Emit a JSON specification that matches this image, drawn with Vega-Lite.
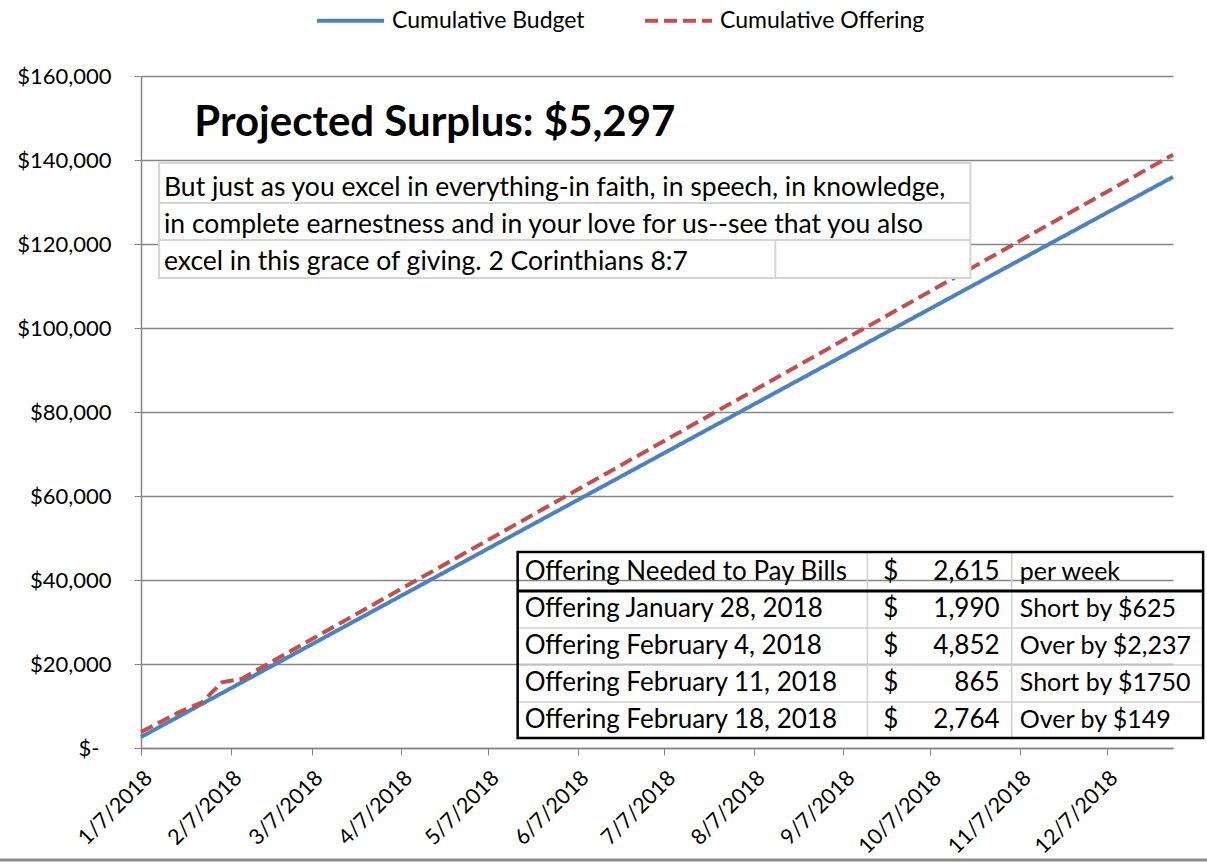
{
  "$schema": "https://vega.github.io/schema/vega-lite/v6.json",
  "autosize": "none",
  "width": 1032,
  "height": 672,
  "padding": {"left": 141, "top": 76, "right": 34, "bottom": 119},
  "background": "white",
  "config": {
    "view": {"stroke": null},
    "font": "Lato",
    "axis": {"labelFont": "Lato", "labelColor": "#000000", "domainColor": "#868686", "tickColor": "#868686", "gridColor": "#868686", "titleFont": "Lato"}
  },
  "layer": [
    {
      "data": {"values": [
        {"date": "2018-01-07", "series": "Cumulative Budget", "value": 2615},
        {"date": "2018-01-14", "series": "Cumulative Budget", "value": 5230},
        {"date": "2018-01-21", "series": "Cumulative Budget", "value": 7845},
        {"date": "2018-01-28", "series": "Cumulative Budget", "value": 10460},
        {"date": "2018-02-04", "series": "Cumulative Budget", "value": 13075},
        {"date": "2018-02-11", "series": "Cumulative Budget", "value": 15690},
        {"date": "2018-02-18", "series": "Cumulative Budget", "value": 18305},
        {"date": "2018-02-25", "series": "Cumulative Budget", "value": 20920},
        {"date": "2018-03-04", "series": "Cumulative Budget", "value": 23535},
        {"date": "2018-03-11", "series": "Cumulative Budget", "value": 26150},
        {"date": "2018-03-18", "series": "Cumulative Budget", "value": 28765},
        {"date": "2018-03-25", "series": "Cumulative Budget", "value": 31380},
        {"date": "2018-04-01", "series": "Cumulative Budget", "value": 33995},
        {"date": "2018-04-08", "series": "Cumulative Budget", "value": 36610},
        {"date": "2018-04-15", "series": "Cumulative Budget", "value": 39225},
        {"date": "2018-04-22", "series": "Cumulative Budget", "value": 41840},
        {"date": "2018-04-29", "series": "Cumulative Budget", "value": 44455},
        {"date": "2018-05-06", "series": "Cumulative Budget", "value": 47070},
        {"date": "2018-05-13", "series": "Cumulative Budget", "value": 49685},
        {"date": "2018-05-20", "series": "Cumulative Budget", "value": 52300},
        {"date": "2018-05-27", "series": "Cumulative Budget", "value": 54915},
        {"date": "2018-06-03", "series": "Cumulative Budget", "value": 57530},
        {"date": "2018-06-10", "series": "Cumulative Budget", "value": 60145},
        {"date": "2018-06-17", "series": "Cumulative Budget", "value": 62760},
        {"date": "2018-06-24", "series": "Cumulative Budget", "value": 65375},
        {"date": "2018-07-01", "series": "Cumulative Budget", "value": 67990},
        {"date": "2018-07-08", "series": "Cumulative Budget", "value": 70605},
        {"date": "2018-07-15", "series": "Cumulative Budget", "value": 73220},
        {"date": "2018-07-22", "series": "Cumulative Budget", "value": 75835},
        {"date": "2018-07-29", "series": "Cumulative Budget", "value": 78450},
        {"date": "2018-08-05", "series": "Cumulative Budget", "value": 81065},
        {"date": "2018-08-12", "series": "Cumulative Budget", "value": 83680},
        {"date": "2018-08-19", "series": "Cumulative Budget", "value": 86295},
        {"date": "2018-08-26", "series": "Cumulative Budget", "value": 88910},
        {"date": "2018-09-02", "series": "Cumulative Budget", "value": 91525},
        {"date": "2018-09-09", "series": "Cumulative Budget", "value": 94140},
        {"date": "2018-09-16", "series": "Cumulative Budget", "value": 96755},
        {"date": "2018-09-23", "series": "Cumulative Budget", "value": 99370},
        {"date": "2018-09-30", "series": "Cumulative Budget", "value": 101985},
        {"date": "2018-10-07", "series": "Cumulative Budget", "value": 104600},
        {"date": "2018-10-14", "series": "Cumulative Budget", "value": 107215},
        {"date": "2018-10-21", "series": "Cumulative Budget", "value": 109830},
        {"date": "2018-10-28", "series": "Cumulative Budget", "value": 112445},
        {"date": "2018-11-04", "series": "Cumulative Budget", "value": 115060},
        {"date": "2018-11-11", "series": "Cumulative Budget", "value": 117675},
        {"date": "2018-11-18", "series": "Cumulative Budget", "value": 120290},
        {"date": "2018-11-25", "series": "Cumulative Budget", "value": 122905},
        {"date": "2018-12-02", "series": "Cumulative Budget", "value": 125520},
        {"date": "2018-12-09", "series": "Cumulative Budget", "value": 128135},
        {"date": "2018-12-16", "series": "Cumulative Budget", "value": 130750},
        {"date": "2018-12-23", "series": "Cumulative Budget", "value": 133365},
        {"date": "2018-12-30", "series": "Cumulative Budget", "value": 135980},
        {"date": "2018-01-07", "series": "Cumulative Offering", "value": 3800},
        {"date": "2018-01-14", "series": "Cumulative Offering", "value": 6300},
        {"date": "2018-01-21", "series": "Cumulative Offering", "value": 8800},
        {"date": "2018-01-28", "series": "Cumulative Offering", "value": 10790},
        {"date": "2018-02-04", "series": "Cumulative Offering", "value": 15642},
        {"date": "2018-02-11", "series": "Cumulative Offering", "value": 16507},
        {"date": "2018-02-18", "series": "Cumulative Offering", "value": 19271},
        {"date": "2018-02-25", "series": "Cumulative Offering", "value": 22011},
        {"date": "2018-03-04", "series": "Cumulative Offering", "value": 24721},
        {"date": "2018-03-11", "series": "Cumulative Offering", "value": 27432},
        {"date": "2018-03-18", "series": "Cumulative Offering", "value": 30142},
        {"date": "2018-03-25", "series": "Cumulative Offering", "value": 32853},
        {"date": "2018-04-01", "series": "Cumulative Offering", "value": 35564},
        {"date": "2018-04-08", "series": "Cumulative Offering", "value": 38274},
        {"date": "2018-04-15", "series": "Cumulative Offering", "value": 40985},
        {"date": "2018-04-22", "series": "Cumulative Offering", "value": 43695},
        {"date": "2018-04-29", "series": "Cumulative Offering", "value": 46406},
        {"date": "2018-05-06", "series": "Cumulative Offering", "value": 49117},
        {"date": "2018-05-13", "series": "Cumulative Offering", "value": 51827},
        {"date": "2018-05-20", "series": "Cumulative Offering", "value": 54538},
        {"date": "2018-05-27", "series": "Cumulative Offering", "value": 57248},
        {"date": "2018-06-03", "series": "Cumulative Offering", "value": 59959},
        {"date": "2018-06-10", "series": "Cumulative Offering", "value": 62670},
        {"date": "2018-06-17", "series": "Cumulative Offering", "value": 65380},
        {"date": "2018-06-24", "series": "Cumulative Offering", "value": 68091},
        {"date": "2018-07-01", "series": "Cumulative Offering", "value": 70801},
        {"date": "2018-07-08", "series": "Cumulative Offering", "value": 73512},
        {"date": "2018-07-15", "series": "Cumulative Offering", "value": 76223},
        {"date": "2018-07-22", "series": "Cumulative Offering", "value": 78933},
        {"date": "2018-07-29", "series": "Cumulative Offering", "value": 81644},
        {"date": "2018-08-05", "series": "Cumulative Offering", "value": 84354},
        {"date": "2018-08-12", "series": "Cumulative Offering", "value": 87065},
        {"date": "2018-08-19", "series": "Cumulative Offering", "value": 89776},
        {"date": "2018-08-26", "series": "Cumulative Offering", "value": 92486},
        {"date": "2018-09-02", "series": "Cumulative Offering", "value": 95197},
        {"date": "2018-09-09", "series": "Cumulative Offering", "value": 97907},
        {"date": "2018-09-16", "series": "Cumulative Offering", "value": 100618},
        {"date": "2018-09-23", "series": "Cumulative Offering", "value": 103329},
        {"date": "2018-09-30", "series": "Cumulative Offering", "value": 106039},
        {"date": "2018-10-07", "series": "Cumulative Offering", "value": 108750},
        {"date": "2018-10-14", "series": "Cumulative Offering", "value": 111460},
        {"date": "2018-10-21", "series": "Cumulative Offering", "value": 114171},
        {"date": "2018-10-28", "series": "Cumulative Offering", "value": 116882},
        {"date": "2018-11-04", "series": "Cumulative Offering", "value": 119592},
        {"date": "2018-11-11", "series": "Cumulative Offering", "value": 122303},
        {"date": "2018-11-18", "series": "Cumulative Offering", "value": 125013},
        {"date": "2018-11-25", "series": "Cumulative Offering", "value": 127724},
        {"date": "2018-12-02", "series": "Cumulative Offering", "value": 130435},
        {"date": "2018-12-09", "series": "Cumulative Offering", "value": 133145},
        {"date": "2018-12-16", "series": "Cumulative Offering", "value": 135856},
        {"date": "2018-12-23", "series": "Cumulative Offering", "value": 138566},
        {"date": "2018-12-30", "series": "Cumulative Offering", "value": 141277}
      ]},
      "mark": {"type": "line", "strokeWidth": 4, "strokeCap": "butt"},
      "encoding": {
        "x": {
          "field": "date", "type": "temporal",
          "scale": {"domain": [{"year": 2018, "month": 1, "date": 7, "utc": true}, {"year": 2018, "month": 12, "date": 30, "utc": true}], "nice": false},
          "axis": {
            "title": null,
            "values": [
              {"year": 2018, "month": 1, "date": 7, "utc": true},
              {"year": 2018, "month": 2, "date": 7, "utc": true},
              {"year": 2018, "month": 3, "date": 7, "utc": true},
              {"year": 2018, "month": 4, "date": 7, "utc": true},
              {"year": 2018, "month": 5, "date": 7, "utc": true},
              {"year": 2018, "month": 6, "date": 7, "utc": true},
              {"year": 2018, "month": 7, "date": 7, "utc": true},
              {"year": 2018, "month": 8, "date": 7, "utc": true},
              {"year": 2018, "month": 9, "date": 7, "utc": true},
              {"year": 2018, "month": 10, "date": 7, "utc": true},
              {"year": 2018, "month": 11, "date": 7, "utc": true},
              {"year": 2018, "month": 12, "date": 7, "utc": true}
            ],
            "labelExpr": "utcFormat(datum.value, '%-m/%-d/%Y')",
            "labelAngle": -45,
            "labelFontSize": 21.5,
            "labelPadding": 12,
            "labelDx": 8,
            "tickSize": 7,
            "grid": false,
            "domainWidth": 1.5,
            "labelOverlap": false
          }
        },
        "y": {
          "field": "value", "type": "quantitative",
          "scale": {"domain": [0, 160000], "nice": false},
          "axis": {
            "title": null,
            "values": [0, 20000, 40000, 60000, 80000, 100000, 120000, 140000, 160000],
            "labelExpr": "datum.value === 0 ? '$-' : format(datum.value, '$,')",
            "labelFontSize": 22,
            "tickSize": 7,
            "labelPadding": {"condition": {"test": "datum.value === 0", "value": 35}, "value": 23},
            "grid": true,
            "gridWidth": 1.5,
            "domainWidth": 1.5
          }
        },
        "color": {
          "field": "series", "type": "nominal",
          "scale": {"domain": ["Cumulative Budget", "Cumulative Offering"], "range": ["#4F81BD", "#C0504D"]},
          "legend": {"orient": "none", "legendX": 174, "legendY": -91, "direction": "horizontal", "title": null, "symbolType": "stroke", "symbolSize": 4489, "symbolStrokeWidth": 4, "labelFontSize": 23, "labelFont": "Lato", "labelColor": "#000000", "labelLimit": 400, "columnPadding": 52, "labelOffset": 6}
        },
        "strokeDash": {
          "field": "series", "type": "nominal",
          "scale": {"domain": ["Cumulative Budget", "Cumulative Offering"], "range": [[1, 0], [13, 6]]}
        }
      }
    },
    {
      "data": {"values": [{}]},
      "mark": {"type": "text", "text": "Projected Surplus: $5,297", "font": "Lato", "fontWeight": "bold", "fontSize": 42, "align": "left", "baseline": "middle", "color": "#000000"},
      "encoding": {
        "x": {"datum": {"year": 2018, "month": 1, "date": 25, "hours": 10, "utc": true}, "type": "temporal"},
        "y": {"datum": 148800, "type": "quantitative"}
      }
    },
    {
      "data": {"values": [{}]},
      "mark": {"type": "rect", "fill": "white", "stroke": "#d4d4d4", "strokeWidth": 2},
      "encoding": {
        "x": {"datum": {"year": 2018, "month": 1, "date": 13, "hours": 6, "utc": true}, "type": "temporal"},
        "x2": {"datum": {"year": 2018, "month": 10, "date": 20, "hours": 22, "utc": true}},
        "y": {"datum": 139289, "type": "quantitative"},
        "y2": {"datum": 111907}
      }
    },
    {
      "data": {"values": [{}]},
      "mark": {"type": "rule", "stroke": "#d4d4d4", "strokeWidth": 2},
      "encoding": {
        "x": {"datum": {"year": 2018, "month": 1, "date": 13, "hours": 6, "utc": true}, "type": "temporal"},
        "x2": {"datum": {"year": 2018, "month": 10, "date": 20, "hours": 22, "utc": true}},
        "y": {"datum": 129765, "type": "quantitative"}
      }
    },
    {
      "data": {"values": [{}]},
      "mark": {"type": "rule", "stroke": "#d4d4d4", "strokeWidth": 2},
      "encoding": {
        "x": {"datum": {"year": 2018, "month": 1, "date": 13, "hours": 6, "utc": true}, "type": "temporal"},
        "x2": {"datum": {"year": 2018, "month": 10, "date": 20, "hours": 22, "utc": true}},
        "y": {"datum": 120955, "type": "quantitative"}
      }
    },
    {
      "data": {"values": [{}]},
      "mark": {"type": "rule", "stroke": "#d4d4d4", "strokeWidth": 2},
      "encoding": {
        "x": {"datum": {"year": 2018, "month": 8, "date": 14, "hours": 10, "utc": true}, "type": "temporal"},
        "y": {"datum": 120955, "type": "quantitative"},
        "y2": {"datum": 111907}
      }
    },
    {
      "data": {"values": [{}]},
      "mark": {"type": "text", "text": ["But just as you excel in everything-in faith, in speech, in knowledge,", "in complete earnestness and in your love for us--see that you also", "excel in this grace of giving. 2 Corinthians 8:7"], "font": "Lato", "fontSize": 26.5, "lineHeight": 37, "align": "left", "baseline": "middle", "color": "#000000"},
      "encoding": {
        "x": {"datum": {"year": 2018, "month": 1, "date": 14, "hours": 23, "utc": true}, "type": "temporal"},
        "y": {"datum": 133336, "type": "quantitative"}
      }
    },
    {
      "data": {"values": [{}]},
      "mark": {"type": "rule", "stroke": "#d0d0d0", "strokeWidth": 1.5},
      "encoding": {
        "x": {"datum": {"year": 2018, "month": 5, "date": 17, "hours": 7, "utc": true}, "type": "temporal"},
        "x2": {"datum": {"year": 2019, "month": 1, "date": 9, "hours": 10, "utc": true}},
        "y": {"datum": 28572, "type": "quantitative"}
      }
    },
    {
      "data": {"values": [{}]},
      "mark": {"type": "rule", "stroke": "#d0d0d0", "strokeWidth": 1.5},
      "encoding": {
        "x": {"datum": {"year": 2018, "month": 5, "date": 17, "hours": 7, "utc": true}, "type": "temporal"},
        "x2": {"datum": {"year": 2019, "month": 1, "date": 9, "hours": 10, "utc": true}},
        "y": {"datum": 19762, "type": "quantitative"}
      }
    },
    {
      "data": {"values": [{}]},
      "mark": {"type": "rule", "stroke": "#d0d0d0", "strokeWidth": 1.5},
      "encoding": {
        "x": {"datum": {"year": 2018, "month": 5, "date": 17, "hours": 7, "utc": true}, "type": "temporal"},
        "x2": {"datum": {"year": 2019, "month": 1, "date": 9, "hours": 10, "utc": true}},
        "y": {"datum": 10953, "type": "quantitative"}
      }
    },
    {
      "data": {"values": [{}]},
      "mark": {"type": "rule", "stroke": "#d0d0d0", "strokeWidth": 1.5},
      "encoding": {
        "x": {"datum": {"year": 2018, "month": 9, "date": 15, "hours": 7, "utc": true}, "type": "temporal"},
        "y": {"datum": 46668, "type": "quantitative"},
        "y2": {"datum": 2381}
      }
    },
    {
      "data": {"values": [{}]},
      "mark": {"type": "rule", "stroke": "#d0d0d0", "strokeWidth": 1.5},
      "encoding": {
        "x": {"datum": {"year": 2018, "month": 11, "date": 4, "hours": 5, "utc": true}, "type": "temporal"},
        "y": {"datum": 46668, "type": "quantitative"},
        "y2": {"datum": 2381}
      }
    },
    {
      "data": {"values": [{}]},
      "mark": {"type": "rule", "stroke": "#000000", "strokeWidth": 3},
      "encoding": {
        "x": {"datum": {"year": 2018, "month": 5, "date": 17, "hours": 7, "utc": true}, "type": "temporal"},
        "x2": {"datum": {"year": 2019, "month": 1, "date": 9, "hours": 10, "utc": true}},
        "y": {"datum": 37382, "type": "quantitative"}
      }
    },
    {
      "data": {"values": [{}]},
      "mark": {"type": "rect", "fill": null, "fillOpacity": 0, "stroke": "#000000", "strokeWidth": 2.5},
      "encoding": {
        "x": {"datum": {"year": 2018, "month": 5, "date": 17, "hours": 7, "utc": true}, "type": "temporal"},
        "x2": {"datum": {"year": 2019, "month": 1, "date": 9, "hours": 10, "utc": true}},
        "y": {"datum": 46668, "type": "quantitative"},
        "y2": {"datum": 2381}
      }
    },
    {
      "data": {"values": [{}]},
      "mark": {"type": "text", "text": ["Offering Needed to Pay Bills", "Offering January 28, 2018", "Offering February 4, 2018", "Offering February 11, 2018", "Offering February 18, 2018"], "font": "Lato", "fontSize": 26, "lineHeight": 37, "align": "left", "baseline": "middle", "color": "#000000"},
      "encoding": {
        "x": {"datum": {"year": 2018, "month": 5, "date": 19, "hours": 17, "utc": true}, "type": "temporal"},
        "y": {"datum": 41906, "type": "quantitative"}
      }
    },
    {
      "data": {"values": [{}]},
      "mark": {"type": "text", "text": ["$", "$", "$", "$", "$"], "font": "Lato", "fontSize": 26, "lineHeight": 37, "align": "left", "baseline": "middle", "color": "#000000"},
      "encoding": {
        "x": {"datum": {"year": 2018, "month": 9, "date": 20, "hours": 19, "utc": true}, "type": "temporal"},
        "y": {"datum": 41906, "type": "quantitative"}
      }
    },
    {
      "data": {"values": [{}]},
      "mark": {"type": "text", "text": ["2,615", "1,990", "4,852", "865", "2,764"], "font": "Lato", "fontSize": 26, "lineHeight": 37, "align": "right", "baseline": "middle", "color": "#000000"},
      "encoding": {
        "x": {"datum": {"year": 2018, "month": 10, "date": 31, "hours": 0, "utc": true}, "type": "temporal"},
        "y": {"datum": 41906, "type": "quantitative"}
      }
    },
    {
      "data": {"values": [{}]},
      "mark": {"type": "text", "text": ["per week", "Short by $625", "Over by $2,237", "Short by $1750", "Over by $149"], "font": "Lato", "fontSize": 25, "lineHeight": 37, "align": "left", "baseline": "middle", "color": "#000000"},
      "encoding": {
        "x": {"datum": {"year": 2018, "month": 11, "date": 7, "hours": 0, "utc": true}, "type": "temporal"},
        "y": {"datum": 41906, "type": "quantitative"}
      }
    },
    {
      "data": {"values": [{}]},
      "mark": {"type": "rule", "stroke": "#8c8c8c", "strokeWidth": 3},
      "encoding": {
        "x": {"datum": {"year": 2017, "month": 11, "date": 18, "utc": true}, "type": "temporal"},
        "x2": {"datum": {"year": 2019, "month": 1, "date": 11, "utc": true}},
        "y": {"datum": -26667, "type": "quantitative"}
      }
    }
  ]
}
